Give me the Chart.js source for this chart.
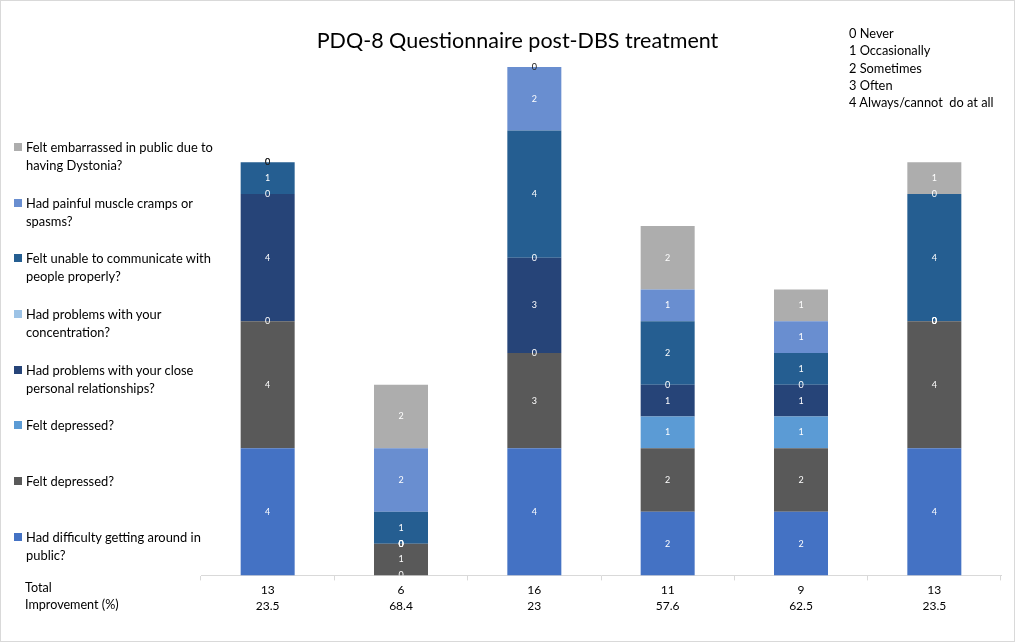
<!DOCTYPE html>
<html>
<head>
<meta charset="utf-8">
<script src="https://cdn.jsdelivr.net/npm/chart.js@4.4.1/dist/chart.umd.min.js"></script>
<style>
  body { margin: 0; background: #fff; font-family: Lato, 'Open Sans', sans-serif; color: #000; }
  #wrap { position: relative; width: 1015px; height: 642px; }
  #frame { position: absolute; inset: 0; border: 1px solid #d9d9d9; box-sizing: border-box; pointer-events: none; }
  #title { position: absolute; left: 0; width: 1035px; top: 26px; text-align: center; font-size: 21.5px; line-height: 28px; }
  #key { position: absolute; left: 849px; top: 25px; font-size: 12.8px; line-height: 17.3px; }
  #legend { position: absolute; left: 14px; top: 138px; width: 210px; font-size: 12.9px; line-height: 18px; }
  #legend .item { position: relative; height: 55.7px; padding-left: 12px; }
  #legend .sw { position: absolute; left: 0; top: 5px; width: 8px; height: 8px; }
  #rows { position: absolute; left: 25px; top: 579px; font-size: 12.6px; line-height: 17px; }
</style>
</head>
<body>
<div id="wrap">
  <canvas id="chart"></canvas>
  <div id="title">PDQ-8 Questionnaire post-DBS treatment</div>
  <div id="key"></div>
  <div id="legend"></div>
  <div id="rows"><div>Total</div><div>Improvement (%)</div></div>
  <div id="frame"></div>
</div>
<script>
// ── Data ──
const totals = ['13', '6', '16', '11', '9', '13'];
const improvement = ['23.5', '68.4', '23', '57.6', '62.5', '23.5'];

const difficultyGettingAround = [4, 0, 4, 2, 2, 4];
const feltDepressedGrey = [4, 1, 3, 2, 2, 4];
const feltDepressedBlue = [0, 0, 0, 1, 1, 0];
const closeRelationships = [4, 0, 3, 1, 1, 0];
const concentration = [0, 0, 0, 0, 0, 0];
const communicate = [1, 1, 4, 2, 1, 4];
const crampsSpasms = [0, 2, 2, 1, 1, 0];
const embarrassed = [0, 2, 0, 2, 1, 1];

const scaleKey = ['0 Never', '1 Occasionally', '2 Sometimes', '3 Often', '4 Always/cannot  do at all'];

const series = [
  { label: 'Had difficulty getting around in public?', data: difficultyGettingAround, color: '#4472C4' },
  { label: 'Felt depressed?', data: feltDepressedGrey, color: '#595959' },
  { label: 'Felt depressed?', data: feltDepressedBlue, color: '#5B9BD5' },
  { label: 'Had problems with your close personal relationships?', data: closeRelationships, color: '#264478' },
  { label: 'Had problems with your concentration?', data: concentration, color: '#9DC3E6' },
  { label: 'Felt unable to communicate with people properly?', data: communicate, color: '#255E91' },
  { label: 'Had painful muscle cramps or spasms?', data: crampsSpasms, color: '#698ED0' },
  { label: 'Felt embarrassed in public due to having Dystonia?', data: embarrassed, color: '#ADADAD' }
];

// ── Side texts ──
document.getElementById('key').innerHTML = scaleKey.map(s => `<div style="white-space:pre">${s}</div>`).join('');
document.getElementById('legend').innerHTML = series.slice().reverse().map(s => `
  <div class="item"><span class="sw" style="background:${s.color}"></span>${s.label}</div>
`).join('');

// ── Segment labels ──
const segmentLabels = {
  id: 'segmentLabels',
  afterDatasetsDraw(chart) {
    const ctx = chart.ctx;
    const area = chart.chartArea;
    ctx.save();
    ctx.beginPath();
    ctx.rect(0, 0, chart.width, area.bottom);
    ctx.clip();
    ctx.font = '9px Lato, sans-serif';
    ctx.textAlign = 'center';
    ctx.textBaseline = 'middle';
    chart.data.datasets.forEach((ds, i) => {
      chart.getDatasetMeta(i).data.forEach((bar, j) => {
        const { x, y, base } = bar.getProps(['x', 'y', 'base'], true);
        const v = ds.data[j];
        let above = 0;
        for (let k = i + 1; k < chart.data.datasets.length; k++) above += chart.data.datasets[k].data[j];
        ctx.fillStyle = (v === 0 && above === 0) ? '#222' : '#fff';
        ctx.fillText(String(v), x, (y + base) / 2);
      });
    });
    ctx.restore();
  }
};

new Chart(document.getElementById('chart'), {
  type: 'bar',
  data: {
    labels: totals.map((t, i) => [t, improvement[i]]),
    datasets: series.map(s => ({
      label: s.label,
      data: s.data,
      backgroundColor: s.color,
      borderWidth: 0,
      categoryPercentage: 1,
      barPercentage: 0.405
    }))
  },
  options: {
    responsive: true,
    maintainAspectRatio: false,
    animation: false,
    layout: { padding: { left: 201, right: 14, top: 67, bottom: 26 } },
    plugins: { legend: { display: false }, title: { display: false }, tooltip: { enabled: false } },
    scales: {
      x: {
        stacked: true,
        grid: { drawOnChartArea: false, drawTicks: true, tickLength: 5, color: '#d9d9d9' },
        border: { color: '#d9d9d9' },
        ticks: { color: '#000', padding: 1, font: { family: 'Lato', size: 12, lineHeight: 1.4 } }
      },
      y: { stacked: true, display: false, min: 0, max: 16 }
    }
  },
  plugins: [segmentLabels]
});
</script>
</body>
</html>
